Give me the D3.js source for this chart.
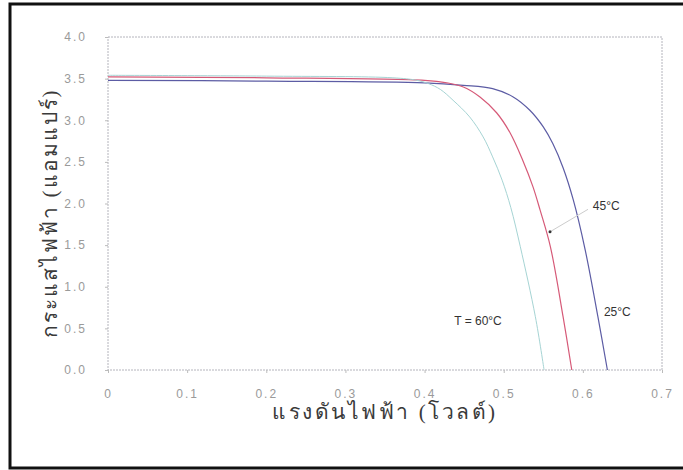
<!DOCTYPE html>
<html><head><meta charset="utf-8">
<script src="https://cdn.jsdelivr.net/npm/d3@7"></script>
<style>
html,body{margin:0;padding:0;background:#fff;}
svg{display:block;}
</style></head>
<body>
<svg id="chart" width="683" height="470"></svg>
<script>
// ---- data ----
const xTicks = [0, 0.1, 0.2, 0.3, 0.4, 0.5, 0.6, 0.7];
const xTickLabels = ["0", "0.1", "0.2", "0.3", "0.4", "0.5", "0.6", "0.7"];
const yTicks = [0, 0.5, 1.0, 1.5, 2.0, 2.5, 3.0, 3.5, 4.0];
const yTickLabels = ["0.0", "0.5", "1.0", "1.5", "2.0", "2.5", "3.0", "3.5", "4.0"];

const seriesNames = ["25°C", "45°C", "T = 60°C"];
const v25 = [0, 0.2, 0.4, 0.449, 0.486, 0.512, 0.533, 0.550, 0.562, 0.575, 0.588, 0.603, 0.619, 0.631];
const i25 = [3.48, 3.47, 3.45, 3.42, 3.38, 3.28, 3.12, 2.92, 2.72, 2.43, 2.04, 1.44, 0.64, 0.0];
const v45 = [0, 0.2, 0.4, 0.428, 0.449, 0.470, 0.491, 0.508, 0.524, 0.537, 0.546, 0.559, 0.575, 0.586];
const i45 = [3.52, 3.51, 3.48, 3.45, 3.40, 3.28, 3.09, 2.85, 2.52, 2.20, 1.92, 1.48, 0.64, 0.0];
const v60 = [0, 0.2, 0.36, 0.39, 0.405, 0.42, 0.436, 0.457, 0.474, 0.486, 0.498, 0.509, 0.521, 0.540, 0.551];
const i60 = [3.54, 3.53, 3.51, 3.48, 3.44, 3.37, 3.24, 3.04, 2.80, 2.56, 2.28, 1.95, 1.48, 0.64, 0.0];

const xTitle = "แรงดันไฟฟ้า (โวลต์)";
const yTitle = "กระแสไฟฟ้า (แอมแปร์)";

// ---- layout ----
const svg = d3.select("#chart");
const L = 108, R = 662, T = 37, B = 370;
const x = d3.scaleLinear().domain([0, 0.7]).range([L, R]);
const y = d3.scaleLinear().domain([0, 4]).range([B, T]);

// outer frame
svg.append("rect").attr("x", 10).attr("y", 4).attr("width", 700).attr("height", 464)
  .attr("fill", "none").attr("stroke", "#111").attr("stroke-width", 3);

// plot border
svg.append("rect").attr("x", L).attr("y", T).attr("width", R - L).attr("height", B - T)
  .attr("fill", "none").attr("stroke", "#b4b4bc").attr("stroke-width", 1).attr("stroke-dasharray", "2,1");

// axes
const yAxis = d3.axisLeft(y).tickValues(yTicks).tickSize(3).tickPadding(18)
  .tickFormat((d, i) => yTickLabels[i]);
const gy = svg.append("g").attr("transform", `translate(${L},0)`).call(yAxis);
const xAxis = d3.axisBottom(x).tickValues(xTicks).tickSize(3).tickPadding(16)
  .tickFormat((d, i) => xTickLabels[i]);
const gx = svg.append("g").attr("transform", `translate(0,${B})`).call(xAxis);
[gx, gy].forEach(g => {
  g.select(".domain").remove();
  g.selectAll(".tick line").attr("stroke", "#bbb");
  g.selectAll(".tick text").attr("fill", "#9a9a9a").style("font-family", "Liberation Sans, Arial, sans-serif")
    .style("font-size", "12px").style("letter-spacing", "2px");
});

// lines
const colors = ["#5c5ca4", "#d65a78", "#a6d4d4"];
const series = [[v25, i25], [v45, i45], [v60, i60]];
const line = d3.line().x(d => x(d[0])).y(d => y(d[1])).curve(d3.curveCatmullRom.alpha(0.5));
series.forEach((s, k) => {
  const pts = s[0].map((v, j) => [v, s[1][j]]);
  svg.append("path").datum(pts).attr("d", line).attr("fill", "none")
    .attr("stroke", colors[k]).attr("stroke-width", k === 2 ? 1 : 1.2);
});

// annotation arrow
const arrowV = [0.6065, 0.5585];
const arrowI = [1.93, 1.66];
svg.append("line").attr("x1", x(arrowV[0])).attr("y1", y(arrowI[0]))
  .attr("x2", x(arrowV[1])).attr("y2", y(arrowI[1])).attr("stroke", "#ccc").attr("stroke-width", 1);
svg.append("circle").attr("cx", x(arrowV[1])).attr("cy", y(arrowI[1])).attr("r", 1.5).attr("fill", "#333");

// labels
const labelV = [0.6435, 0.6295, 0.4675];
const labelI = [0.69, 1.96, 0.58];
seriesNames.forEach((t, k) => {
  svg.append("text").attr("x", x(labelV[k])).attr("y", y(labelI[k])).attr("text-anchor", "middle")
    .attr("dominant-baseline", "middle").attr("fill", "#333")
    .style("font-family", "Liberation Sans, Arial, sans-serif").style("font-size", "12px").text(t);
});

// titles
svg.append("text").attr("x", 385).attr("y", 419).attr("text-anchor", "middle")
  .attr("fill", "#3a3a3a").style("font-family", "serif").style("font-size", "21px").style("letter-spacing", "2.5px").text(xTitle);
svg.append("text").attr("transform", "translate(57,213) rotate(-90)").attr("text-anchor", "middle")
  .attr("fill", "#3a3a3a").style("font-family", "serif").style("font-size", "21px").style("letter-spacing", "2px").text(yTitle);
</script>
</body></html>
